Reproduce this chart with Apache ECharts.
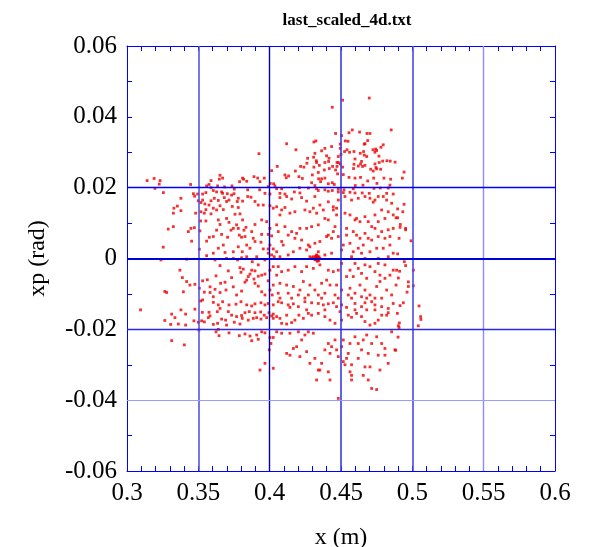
<!DOCTYPE html>
<html><head><meta charset="utf-8">
<script src="https://cdn.jsdelivr.net/npm/echarts@6/dist/echarts.min.js"></script>
<style>html,body{margin:0;padding:0;background:#fff}#c{width:593px;height:547px}</style>
</head><body><div id="c"></div>
<script>
var titleText = "last_scaled_4d.txt";
var xName = "x (m)";
var yName = "xp (rad)";
var xTicks = [0.3,0.35,0.4,0.45,0.5,0.55,0.6];
var yTicks = [-0.06,-0.04,-0.02,0,0.02,0.04,0.06];
var gridX = [0.35,0.4,0.45,0.5,0.55];
var gridY = [0.02,0,-0.02,-0.04];

var ptsUpperLeft = [[0.3925,0.0296],[0.4014,0.0248],[0.3226,0.0210],[0.3446,0.0209],[0.3652,0.0235],[0.367,0.0227],[0.3647,0.0224],[0.3589,0.022],[0.3575,0.0209],[0.3558,0.0205],[0.3589,0.02],[0.3605,0.0192],[0.3635,0.0205],[0.3684,0.0202],[0.3736,0.0205],[0.381,0.0227],[0.3817,0.0224],[0.3789,0.0217],[0.3839,0.0218],[0.389,0.0231],[0.3916,0.0227],[0.3962,0.0227],[0.3932,0.0217],[0.4004,0.0212],[0.4028,0.0211],[0.399,0.0203],[0.3752,0.0196],[0.3846,0.0194],[0.393,0.0194],[0.3628,0.0188],[0.3663,0.0188],[0.367,0.0184],[0.3703,0.0183],[0.375,0.0183],[0.3465,0.0183],[0.3495,0.0182],[0.353,0.0182],[0.3553,0.0186],[0.3196,0.0198],[0.3967,0.0184],[0.4002,0.0182],
[0.3141,0.0220],[0.3190,0.0226],[0.3232,0.0220],[0.3255,0.0186]];

var ptsUpperMid = [[0.4698,0.0453],[0.4511,0.0447],[0.4439,0.0427],[0.4119,0.0324],[0.4184,0.0307],[0.431,0.0329],[0.4324,0.0332],[0.4462,0.0353],[0.4504,0.0347],[0.4579,0.0363],[0.4556,0.0355],[0.463,0.0357],[0.4682,0.0353],[0.4703,0.0353],[0.4852,0.0363],[0.4668,0.0324],[0.4687,0.0333],[0.4663,0.0323],[0.453,0.0332],[0.4549,0.0331],[0.4495,0.0323],[0.4495,0.0311],[0.4434,0.0316],[0.4387,0.0311],[0.4364,0.0304],[0.4317,0.0297],[0.4308,0.0286],[0.4327,0.0276],[0.4266,0.0283],[0.4261,0.0269],[0.424,0.0258],[0.4217,0.026],[0.418,0.0247],[0.4133,0.0233],[0.4107,0.0236],[0.4053,0.026],[0.4037,0.0205],[0.4084,0.0197],[0.4116,0.0228],[0.4205,0.0231],[0.4229,0.0226],[0.4294,0.0214],[0.4343,0.0225],[0.4299,0.0236],[0.4341,0.0243],[0.431,0.0258],[0.4329,0.0271],[0.4348,0.0263],[0.4387,0.0271],[0.4399,0.029],[0.4416,0.0283],[0.4413,0.0274],[0.4383,0.025],[0.4418,0.0254],[0.4441,0.026],[0.4472,0.0271],[0.4481,0.0288],[0.45,0.0294],[0.4525,0.0302],[0.4542,0.0307],[0.456,0.03],[0.4591,0.0302],[0.4635,0.0297],[0.4658,0.0302],[0.468,0.0288],[0.4663,0.0292],[0.4644,0.0274],[0.4637,0.0267],[0.4651,0.026],[0.4668,0.0263],[0.4708,0.0252],[0.4726,0.0247],[0.475,0.0253],[0.4778,0.0252],[0.4745,0.0257],[0.4738,0.0267],[0.4768,0.0271],[0.4792,0.0275],[0.4822,0.0276],[0.4845,0.0275],[0.4796,0.0321],[0.478,0.0314],[0.4743,0.0309],[0.4738,0.03],[0.475,0.0305],[0.4766,0.0289],[0.4724,0.0307],[0.4598,0.0281],[0.4591,0.0266],[0.4588,0.0254],[0.4621,0.0261],[0.4511,0.0258],[0.4495,0.0267],[0.4481,0.0271],[0.4472,0.026],[0.4462,0.025],[0.4476,0.0239],[0.4516,0.0237],[0.4556,0.0229],[0.4598,0.0227],[0.4637,0.0229],[0.4687,0.0219],[0.4729,0.0227],[0.4752,0.0212],[0.4801,0.0227],[0.4848,0.0224],[0.4775,0.0199],[0.4831,0.0199],[0.4843,0.0207],[0.4731,0.0198],[0.4654,0.0207],[0.46,0.0206],[0.4586,0.0197],[0.4521,0.0194],[0.4481,0.0196],[0.4439,0.0214],[0.4453,0.0209],[0.4411,0.0211],[0.4387,0.0227],[0.4364,0.0225],[0.4357,0.0217],[0.4317,0.0206],[0.4271,0.0199],[0.4208,0.02],[0.4173,0.0188],[0.4107,0.0182],[0.4049,0.0197],[0.4072,0.0184],[0.4212,0.0185],[0.4329,0.0197],[0.4341,0.0192],[0.4387,0.0194],[0.4411,0.019],[0.4439,0.0192],[0.4481,0.0188],[0.4516,0.0186],[0.4563,0.0187],[0.4598,0.0185],[0.4649,0.0185],[0.4698,0.0184],[0.482,0.0184],[0.4866,0.0182]];

var ptsUpperRight = [[0.4879,0.0272],[0.4942,0.0244],[0.493,0.0227]];

var ptsMidLeft = [[0.3378,0.017],[0.3353,0.0148],[0.3329,0.0142],[0.3378,0.0135],[0.3325,0.0128],[0.3474,0.0176],[0.35,0.0163],[0.353,0.0165],[0.3518,0.0158],[0.3546,0.0154],[0.3553,0.0138],[0.3575,0.0151],[0.3589,0.0163],[0.3612,0.017],[0.364,0.0164],[0.3652,0.0149],[0.3682,0.0172],[0.3698,0.0161],[0.3715,0.0165],[0.3733,0.0179],[0.3773,0.0161],[0.378,0.017],[0.381,0.0162],[0.3846,0.0175],[0.3869,0.0173],[0.3897,0.0161],[0.392,0.0151],[0.3955,0.0151],[0.4002,0.0149],[0.4025,0.0142],[0.378,0.0144],[0.3738,0.0147],[0.3675,0.0138],[0.3628,0.0137],[0.3605,0.0142],[0.3589,0.0126],[0.3542,0.0128],[0.3518,0.0132],[0.3481,0.0128],[0.3516,0.0106],[0.3553,0.0106],[0.364,0.0109],[0.3652,0.0096],[0.3698,0.0113],[0.3715,0.0102],[0.3757,0.0125],[0.3792,0.0126],[0.381,0.0109],[0.3768,0.0095],[0.3745,0.0085],[0.378,0.0085],[0.382,0.008],[0.3834,0.0088],[0.3874,0.0076],[0.3897,0.0096],[0.3944,0.0109],[0.3979,0.0104],[0.4002,0.0085],[0.399,0.0068],[0.4014,0.0064],[0.3944,0.0068],[0.3885,0.0057],[0.3827,0.0062],[0.3803,0.006],[0.3787,0.0066],[0.3729,0.008],[0.3705,0.006],[0.3663,0.0068],[0.3628,0.0080],[0.3605,0.0062],[0.3577,0.006],[0.3558,0.0049],[0.3511,0.0078],[0.3472,0.0087],[0.3448,0.0085],[0.343,0.0076],[0.3289,0.0083],[0.3325,0.009],[0.3453,0.0049],[0.3507,0.0026],[0.3558,0.0008],[0.3605,0.0015],[0.364,0.0029],[0.3675,0.0038],[0.3687,0.0017],[0.3745,0.0019],[0.378,0.0033],[0.3808,0.0019],[0.3839,0.0038],[0.3862,0.0029],[0.3897,0.0048],[0.3939,0.0046],[0.3955,0.0027],[0.399,0.0027],[0.4025,0.0027],[0.4002,0.0038],[0.399,0.0015],[0.4014,0.001],[0.4032,0.0005],[0.3909,0.0005],[0.3839,0.0005],[0.3803,0.0002],[0.3698,0.0],[0.3617,-0.0004],[0.3418,-0.0002],[0.3238,-0.0004],[0.3254,0.0032],[0.3371,-0.0033],[0.3388,-0.0054],[0.3418,-0.0065],[0.3441,-0.0075],[0.3395,-0.0094],[0.3278,-0.0096],[0.3476,-0.0073],[0.3507,-0.0084],[0.353,-0.0063],[0.3563,-0.006],[0.3582,-0.008],[0.3624,-0.0049],[0.3652,-0.002],[0.371,-0.0035],[0.3733,-0.0054],[0.3687,-0.0067],[0.3656,-0.007],[0.3617,-0.0087],[0.3582,-0.0096],[0.3542,-0.0095],[0.3605,-0.0108],[0.3652,-0.0096],[0.3694,-0.0089],[0.3745,-0.008],[0.3768,-0.0103],[0.3803,-0.0092],[0.3827,-0.0067],[0.3839,-0.0061],[0.385,-0.0051],[0.3792,-0.0026],[0.3815,-0.003],[0.3799,-0.0039],[0.3874,-0.0033],[0.3897,-0.0035],[0.3862,-0.0044],[0.389,-0.0058],[0.392,-0.0050],[0.3944,-0.0047],[0.3967,-0.0044],[0.3897,-0.007],[0.392,-0.0078],[0.3944,-0.0094],[0.3967,-0.0103],[0.4002,-0.0089],[0.4018,-0.0103],[0.4025,-0.0075],[0.399,-0.0063],[0.4002,-0.0033],[0.4025,-0.0023],[0.392,-0.0018],[0.3878,-0.0009],[0.3967,-0.0004],[0.3775,-0.0004],[0.3745,0.0]];

var ptsMidCenter = [[0.4072,0.0172],[0.4119,0.0175],[0.4154,0.0168],[0.4224,0.0172],[0.4259,0.0162],[0.4317,0.0175],[0.4352,0.0151],[0.4411,0.016],[0.4446,0.0146],[0.4469,0.0142],[0.4481,0.0165],[0.4528,0.0175],[0.4574,0.0165],[0.4621,0.017],[0.4668,0.0175],[0.4703,0.017],[0.4726,0.0159],[0.4738,0.0165],[0.4761,0.0175],[0.4796,0.0175],[0.482,0.0165],[0.4855,0.0156],[0.4049,0.0146],[0.4107,0.0144],[0.4084,0.0137],[0.4072,0.0123],[0.4142,0.0128],[0.4177,0.0132],[0.4247,0.0137],[0.4282,0.0132],[0.4306,0.0142],[0.4329,0.0128],[0.4376,0.0137],[0.4387,0.0113],[0.4411,0.0109],[0.4446,0.0137],[0.4469,0.0123],[0.4528,0.0128],[0.4563,0.0123],[0.4598,0.0109],[0.4609,0.0113],[0.4633,0.0104],[0.4668,0.0118],[0.4691,0.0104],[0.4738,0.0123],[0.4785,0.0137],[0.4831,0.0132],[0.4866,0.0123],[0.4808,0.0113],[0.4761,0.0104],[0.4715,0.009],[0.4738,0.0085],[0.4785,0.0076],[0.4831,0.0081],[0.4866,0.0085],[0.4843,0.0062],[0.4808,0.0057],[0.4761,0.0062],[0.4715,0.0052],[0.4691,0.0057],[0.4656,0.0038],[0.4621,0.0029],[0.4586,0.0019],[0.4563,0.0043],[0.4539,0.0066],[0.4609,0.0066],[0.4633,0.0057],[0.4516,0.0038],[0.4481,0.0062],[0.4434,0.0057],[0.4399,0.0062],[0.4352,0.0048],[0.4317,0.0043],[0.4271,0.0038],[0.4224,0.0052],[0.4177,0.0057],[0.4154,0.0076],[0.413,0.0066],[0.4107,0.009],[0.4049,0.0095],[0.406,0.0076],[0.4084,0.0048],[0.4095,0.0038],[0.4049,0.0019],[0.4072,0.0005],[0.413,0.001],[0.4166,0.0019],[0.4212,0.0029],[0.4259,0.0024],[0.4282,0.0033],[0.4306,0.0005],[0.4341,0.0019],[0.4387,0.001],[0.4434,0.0015],[0.4504,0.0024],[0.4574,0.0005],[0.4644,0.0015],[0.4703,0.0019],[0.475,0.0029],[0.4796,0.0029],[0.4843,0.0038],[0.4866,0.0015],[0.4831,0.0005],[0.4761,0.0],[0.4668,0.0],[0.4259,0.0085],[0.4294,0.009],[0.4212,0.0085],[0.4189,0.0071],[0.4341,0.0095],[0.4458,0.009],[0.4411,0.0066],[0.4446,0.0076],[0.4539,0.0085],[0.4586,0.0076],[0.4668,0.0071],[0.4317,0.0002],[0.4329,0.0],[0.4341,0.0004],[0.4336,-0.0002],[0.4313,-0.0001],[0.4294,0.0002],[0.4352,0.0],[0.4282,0.0005],[0.406,-0.0023],[0.4084,-0.0037],[0.4049,-0.0047],[0.413,-0.0033],[0.4177,-0.0023],[0.4224,-0.0037],[0.4259,-0.0023],[0.4306,-0.0028],[0.4352,-0.0018],[0.4411,-0.0033],[0.4446,-0.0037],[0.4481,-0.0033],[0.4504,-0.0014],[0.4539,-0.0051],[0.4586,-0.0051],[0.4563,-0.0033],[0.4621,-0.0028],[0.4644,-0.0042],[0.468,-0.0056],[0.4703,-0.0023],[0.4738,-0.0037],[0.4773,-0.0047],[0.4808,-0.0056],[0.4843,-0.0047],[0.4866,-0.0033],[0.4808,-0.0018],[0.4761,-0.0014],[0.4668,-0.0018],[0.4598,-0.0014],[0.4072,-0.007],[0.4119,-0.0075],[0.4166,-0.0079],[0.4212,-0.0089],[0.4236,-0.0065],[0.4282,-0.0075],[0.4317,-0.0089],[0.4364,-0.007],[0.4399,-0.0061],[0.4423,-0.0075],[0.4469,-0.0075],[0.4504,-0.0089],[0.4563,-0.0084],[0.4598,-0.0098],[0.4633,-0.0075],[0.4668,-0.0089],[0.4703,-0.0103],[0.475,-0.0079],[0.4773,-0.0065],[0.482,-0.0089],[0.4855,-0.0103],[0.4738,-0.0112],[0.4644,-0.0108],[0.4551,-0.0103],[0.4458,-0.0103],[0.4387,-0.0098],[0.4341,-0.0103],[0.4271,-0.0103],[0.4201,-0.0103],[0.413,-0.0098],[0.406,-0.0098],[0.4072,-0.0112],[0.4154,-0.0112],[0.4247,-0.0112],[0.4364,-0.0112],[0.4481,-0.0112],[0.4574,-0.0112],[0.468,-0.0112],[0.4785,-0.0112]];

var ptsCoreCluster = [[0.4322,0.0006],[0.4326,-0.0004],[0.4332,0.0008],[0.4338,0.0001],[0.4344,-0.0006],[0.4330,0.0003],[0.4320,-0.0003],[0.4346,0.0005],[0.4334,-0.0008],[0.4328,0.0010]];

var ptsMidRight = [[0.4942,0.0153],[0.4897,0.0140],[0.4933,0.0132],[0.4886,0.0115],[0.4897,0.0115],[0.4916,0.0096],[0.4914,0.0088],[0.4953,0.0085],[0.4953,0.0081],[0.4907,0.0057],[0.4991,0.0050],[0.4897,0.0013],[0.4944,-0.0009],[0.4953,-0.002],[0.5007,-0.0033],[0.4911,-0.0036],[0.489,-0.0033],[0.4902,-0.0055],[0.4972,-0.0066],[0.4886,-0.0075],[0.4972,-0.0079],[0.5007,-0.0077],[0.4963,-0.0095]];

var ptsLowerLeft = [[0.3516,-0.012],[0.353,-0.0117],[0.3605,-0.0124],[0.364,-0.0131],[0.367,-0.0122],[0.3715,-0.0131],[0.3764,-0.0129],[0.3799,-0.0122],[0.3839,-0.0131],[0.3874,-0.0134],[0.3897,-0.0128],[0.3939,-0.0125],[0.3967,-0.0131],[0.399,-0.0127],[0.4025,-0.0131],[0.3378,-0.0145],[0.3476,-0.0143],[0.3528,-0.0152],[0.3575,-0.0152],[0.3633,-0.015],[0.3652,-0.0141],[0.371,-0.015],[0.3733,-0.016],[0.3768,-0.0164],[0.3803,-0.0161],[0.3827,-0.0153],[0.3857,-0.015],[0.3897,-0.0153],[0.3937,-0.0151],[0.3962,-0.016],[0.3995,-0.0153],[0.4025,-0.0157],[0.3313,-0.0157],[0.3411,-0.0157],[0.3336,-0.0167],[0.3469,-0.0176],[0.3523,-0.0176],[0.35,-0.018],[0.3542,-0.0179],[0.357,-0.0167],[0.3582,-0.0162],[0.3605,-0.0186],[0.3635,-0.0183],[0.3663,-0.0171],[0.3691,-0.0174],[0.3698,-0.0188],[0.3752,-0.018],[0.3792,-0.0185],[0.3808,-0.0169],[0.385,-0.0174],[0.3885,-0.0169],[0.3909,-0.0167],[0.3939,-0.0171],[0.3979,-0.0167],[0.4014,-0.0162],[0.4025,-0.0169],[0.3306,-0.0186],[0.336,-0.0185],[0.3411,-0.0188],[0.3504,-0.0202],[0.364,-0.02],[0.3624,-0.0207],[0.3645,-0.0218],[0.3715,-0.021],[0.3787,-0.0218],[0.3827,-0.0213],[0.3874,-0.0232],[0.3862,-0.0219],[0.3909,-0.0216],[0.3944,-0.0207],[0.392,-0.0228],[0.3967,-0.021],[0.4002,-0.0223],[0.4025,-0.0223],[0.4009,-0.024],[0.3997,-0.0258],[0.3967,-0.0296],[0.3932,-0.0315],[0.4025,-0.031],[0.3313,-0.0232],[0.3402,-0.0244],
[0.3095,-0.0145],[0.3265,-0.0093],[0.3265,-0.0175]];

var ptsLowerMid = [[0.406,-0.0122],[0.4084,-0.0125],[0.413,-0.0131],[0.4142,-0.0138],[0.4166,-0.0128],[0.4201,-0.0136],[0.4247,-0.0122],[0.4294,-0.0125],[0.4341,-0.0127],[0.4376,-0.0131],[0.4411,-0.0128],[0.4446,-0.0125],[0.4469,-0.0136],[0.4504,-0.0131],[0.4539,-0.0138],[0.4598,-0.0127],[0.4644,-0.0136],[0.4668,-0.0125],[0.4715,-0.0122],[0.4738,-0.0131],[0.4785,-0.0136],[0.4831,-0.0141],[0.4866,-0.0127],[0.4049,-0.0164],[0.4072,-0.0169],[0.4119,-0.016],[0.4084,-0.0183],[0.4119,-0.0185],[0.4154,-0.0181],[0.4177,-0.0174],[0.4205,-0.016],[0.4236,-0.0169],[0.4271,-0.0155],[0.4294,-0.016],[0.4341,-0.0155],[0.4387,-0.0164],[0.4423,-0.0174],[0.4458,-0.0183],[0.4493,-0.015],[0.4504,-0.0174],[0.4551,-0.016],[0.4574,-0.0166],[0.4609,-0.0155],[0.4644,-0.0164],[0.4668,-0.0178],[0.4703,-0.0188],[0.4738,-0.0183],[0.4761,-0.0174],[0.4785,-0.016],[0.482,-0.016],[0.4831,-0.0153],[0.4738,-0.0145],[0.468,-0.0145],[0.4598,-0.0145],[0.4387,-0.0145],[0.4259,-0.0145],[0.4049,-0.0207],[0.4084,-0.0211],[0.4142,-0.0211],[0.4201,-0.0207],[0.4247,-0.0216],[0.4271,-0.0207],[0.4306,-0.0211],[0.4224,-0.023],[0.4189,-0.0249],[0.4166,-0.0254],[0.4119,-0.0268],[0.4142,-0.0273],[0.4212,-0.0277],[0.4259,-0.0263],[0.4282,-0.0296],[0.4317,-0.0282],[0.4341,-0.0315],[0.4364,-0.0296],[0.4387,-0.0258],[0.4411,-0.024],[0.4423,-0.0268],[0.4434,-0.0249],[0.4458,-0.023],[0.4469,-0.0258],[0.4481,-0.0277],[0.4504,-0.0249],[0.4516,-0.0291],[0.4528,-0.03],[0.4539,-0.0282],[0.4551,-0.0268],[0.4516,-0.023],[0.4563,-0.024],[0.4598,-0.0221],[0.4621,-0.024],[0.4644,-0.0258],[0.4656,-0.023],[0.468,-0.0216],[0.4715,-0.024],[0.475,-0.0221],[0.4785,-0.024],[0.4808,-0.0254],[0.4808,-0.0273],[0.4761,-0.0273],[0.4691,-0.0268],[0.4668,-0.0306],[0.4703,-0.0306],[0.4621,-0.0282],[0.4574,-0.03],[0.4563,-0.032],[0.4574,-0.033],[0.4411,-0.032],[0.4352,-0.0315],[0.4329,-0.0343],[0.4423,-0.0343],[0.4574,-0.0343],[0.4656,-0.033],[0.4691,-0.0343],[0.4715,-0.0367],[0.475,-0.037],[0.4773,-0.0315],[0.4831,-0.0296],[0.4878,-0.0258],[0.4855,-0.0207],[0.4481,-0.0395]];

var ptsLowerRight = [[0.4937,-0.0125],[0.4914,-0.0133],[0.5047,-0.0134],[0.4895,-0.0155],[0.5058,-0.0164],[0.506,-0.0172],[0.4909,-0.0182],[0.5042,-0.019],[0.4902,-0.019],[0.4907,-0.0195],[0.49,-0.0222],[0.4883,-0.0259]];

var allPts = [].concat(ptsUpperLeft, ptsUpperMid, ptsUpperRight, ptsMidLeft, ptsMidCenter, ptsCoreCluster, ptsMidRight, ptsLowerLeft, ptsLowerMid, ptsLowerRight);

var serif = "Liberation Serif";
var blue = "#0000ff";

var gridXStyle = {0.35: ["#4a4ae0", 1.5], 0.4: ["#0000b0", 1.4], 0.45: ["#3a3ae8", 1.6], 0.5: ["#4a4ae8", 1.6], 0.55: ["#8c8cff", 1.4]};
var gridYStyle = {0.02: ["#0000ff", 1.3], 0: ["#0000d8", 2], "-0.02": ["#2a2ae0", 1.3], "-0.04": ["#9a9aff", 1.2]};

function gridLineData() {
  var d = [];
  gridX.forEach(function (v) {
    var s = gridXStyle[v];
    d.push({xAxis: v, lineStyle: {color: s[0], width: s[1], type: "solid"}});
  });
  gridY.forEach(function (v) {
    var s = gridYStyle[String(v)];
    d.push({yAxis: v, lineStyle: {color: s[0], width: s[1], type: "solid"}});
  });
  return d;
}

function mkX(pos, labels) {
  return {
    type: "value", position: pos, min: 0.3, max: 0.6, interval: 0.05,
    axisLine: {show: true, onZero: false, lineStyle: {color: blue, width: 1}},
    axisTick: {show: true, inside: true, length: 5, lineStyle: {color: blue}},
    minorTick: {show: true, splitNumber: 5, length: 5, lineStyle: {color: blue}},
    splitLine: {show: false},
    axisLabel: {show: labels, fontFamily: serif, fontSize: 25, color: "#000", margin: 10,
      formatter: function (v) { return String(parseFloat(v.toFixed(3))); }},
    name: labels ? xName : "", nameLocation: "middle", nameGap: 55,
    nameTextStyle: {fontFamily: serif, fontSize: 24, color: "#000"}
  };
}
function mkY(pos, labels) {
  return {
    type: "value", position: pos, min: -0.06, max: 0.06, interval: 0.02,
    axisLine: {show: true, onZero: false, lineStyle: {color: blue, width: 1}},
    axisTick: {show: true, inside: true, length: 5, lineStyle: {color: blue}},
    minorTick: {show: true, splitNumber: 2, length: 5, lineStyle: {color: blue}},
    splitLine: {show: false},
    axisLabel: {show: labels, fontFamily: serif, fontSize: 25, color: "#000", margin: 10,
      formatter: function (v) { var r = parseFloat(v.toFixed(3)); return r === 0 ? "0" : String(r); }},
    name: labels ? yName : "", nameLocation: "middle", nameGap: 77, nameRotate: 90,
    nameTextStyle: {fontFamily: serif, fontSize: 24, color: "#000"}
  };
}

var chart = echarts.init(document.getElementById("c"), null, {renderer: "canvas"});
chart.setOption({
  animation: false,
  backgroundColor: "#ffffff",
  title: {text: titleText, left: 342, top: 7, textAlign: "center",
    textStyle: {fontFamily: serif, fontSize: 17, fontWeight: "bold", color: "#000"}},
  grid: {left: 127, top: 46, right: 38, bottom: 76, containLabel: false, outerBoundsMode: "none"},
  xAxis: [mkX("bottom", true), mkX("top", false)],
  yAxis: [mkY("left", true), mkY("right", false)],
  series: [
    {type: "scatter", xAxisIndex: 0, yAxisIndex: 0, data: [], silent: true,
     markLine: {silent: true, symbol: ["none", "none"], label: {show: false}, animation: false, data: gridLineData()}},
    {type: "scatter", xAxisIndex: 0, yAxisIndex: 0, data: allPts, symbol: "rect", symbolSize: 2.8,
     itemStyle: {color: "#f00000"}, silent: true}
  ]
});
</script></body></html>
